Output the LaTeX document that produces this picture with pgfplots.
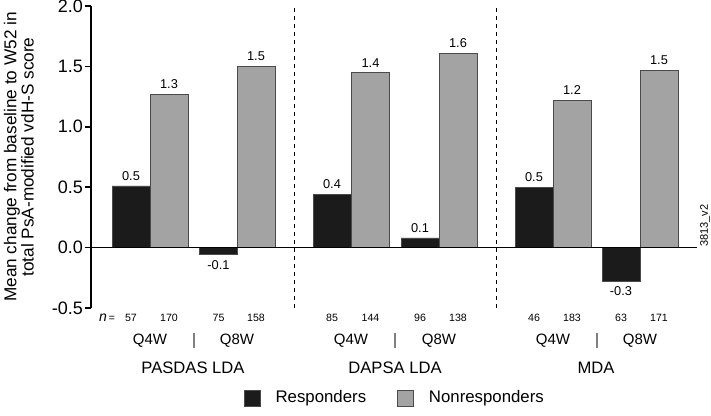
\documentclass[border=0pt]{standalone}
\usepackage{fontspec}
\setmainfont{Liberation Sans}
\usepackage{pgfplots}
\pgfplotsset{compat=1.18}
\definecolor{resp}{HTML}{1B1B1B}
\definecolor{nonresp}{HTML}{A3A3A3}
\definecolor{edge}{HTML}{4A4A4A}
\newcommand{\fs}[1]{\fontsize{#1}{#1}\selectfont}
\def\P#1#2{({#1*0.5pt},{(416-#2)*0.5pt})}
\begin{document}
\begin{tikzpicture}
\useasboundingbox (0,0) rectangle (355.5pt,208pt);
\begin{axis}[
  at={(45.5pt,54pt)}, anchor=south west,
  scale only axis, width=303pt, height=151pt,
  xmin=91, xmax=697, ymin=-0.5, ymax=2.0,
  axis y line=left, axis x line=none,
  axis line style={-, line width=0.8pt},
  ytick={-0.5,0,0.5,1,1.5,2},
  yticklabel style={/pgf/number format/fixed, /pgf/number format/fixed zerofill, /pgf/number format/precision=1, font=\fs{9}, xshift=2.5pt},
  /pgf/number format/assume math mode=true,
  tick align=outside, major tick length=3pt,
  tick style={line width=0.8pt, black},
  clip=false,
  ybar, bar width=38, bar shift=0pt,
  nodes near coords,
  point meta=explicit symbolic,
  every node near coord/.append style={font=\fs{6.4}, inner sep=2.5pt},
  legend style={at={(0.503,-0.298)}, anchor=center, draw=none, fill=none,
    legend columns=2, font=\fs{8.4},
    /tikz/every odd column/.append style={column sep=5.5pt},
    /tikz/every even column/.append style={column sep=13.5pt}},
  legend image code/.code={\draw[#1] (0pt,-4pt) rectangle (8pt,4pt);},
  every axis y label/.style={at={(axis description cs:-0.119,0.5)}, rotate=90, anchor=center},
  ylabel style={align=center, font=\fs{8.6}},
  ylabel={Mean change from baseline to W52 in\\total PsA-modified vdH-S score},
]
\addplot[fill=resp, draw=edge, line width=0.4pt] coordinates {
 (131,0.51) [0.5] (332,0.44) [0.4] (420,0.08) [0.1] (534,0.50) [0.5]
};
\addlegendentry{Responders}
\addplot[fill=nonresp, draw=edge, line width=0.4pt] coordinates {
 (169,1.27) [1.3] (256,1.50) [1.5] (370.5,1.45) [1.4] (458,1.61) [1.6] (572,1.22) [1.2] (659,1.47) [1.5]
};
\addlegendentry{Nonresponders}
\addplot[fill=resp, draw=edge, line width=0.4pt, forget plot,
  every node near coord/.append style={anchor=north}] coordinates {
 (218.5,-0.06) [-0.1] (621,-0.28) [-0.3]
};
\draw[line width=0.6pt] (axis cs:91,0) -- (axis cs:697,0);
\draw[dash pattern=on 2pt off 2pt, line width=0.4pt] (axis cs:294,-0.5) -- (axis cs:294,2.0);
\draw[dash pattern=on 2pt off 2pt, line width=0.4pt] (axis cs:496,-0.5) -- (axis cs:496,2.0);
\end{axis}
% n row
\node[font=\fs{5.3}] at \P{107}{318} {\fs{7}\itshape n\fs{5.3}\,=};
\foreach \x/\v in {131/57,169/170,218.5/75,256/158,332/85,370.5/144,420/96,458/138,534/46,572/183,621/63,659/171}
  \node[font=\fs{5.3}] at \P{\x}{318} {\v};
% dosing row
\foreach \x/\v in {150/Q4W,237/Q8W,351/Q4W,439/Q8W,553/Q4W,640/Q8W}
  \node[font=\fs{7.5}] at \P{\x}{341} {\v};
\foreach \x in {194,395,597}
  \draw[gray, line width=0.6pt] \P{\x}{333} -- \P{\x}{348};
% group row
\node[font=\fs{8.3}] at \P{193}{368} {PASDAS LDA};
\node[font=\fs{8.3}] at \P{395}{368} {DAPSA LDA};
\node[font=\fs{8.3}] at \P{596}{368} {MDA};
\node[font=\fs{5.5}, rotate=90, anchor=west, inner sep=0pt] at \P{705}{247} {3813\_v2};
\end{tikzpicture}
\end{document}
